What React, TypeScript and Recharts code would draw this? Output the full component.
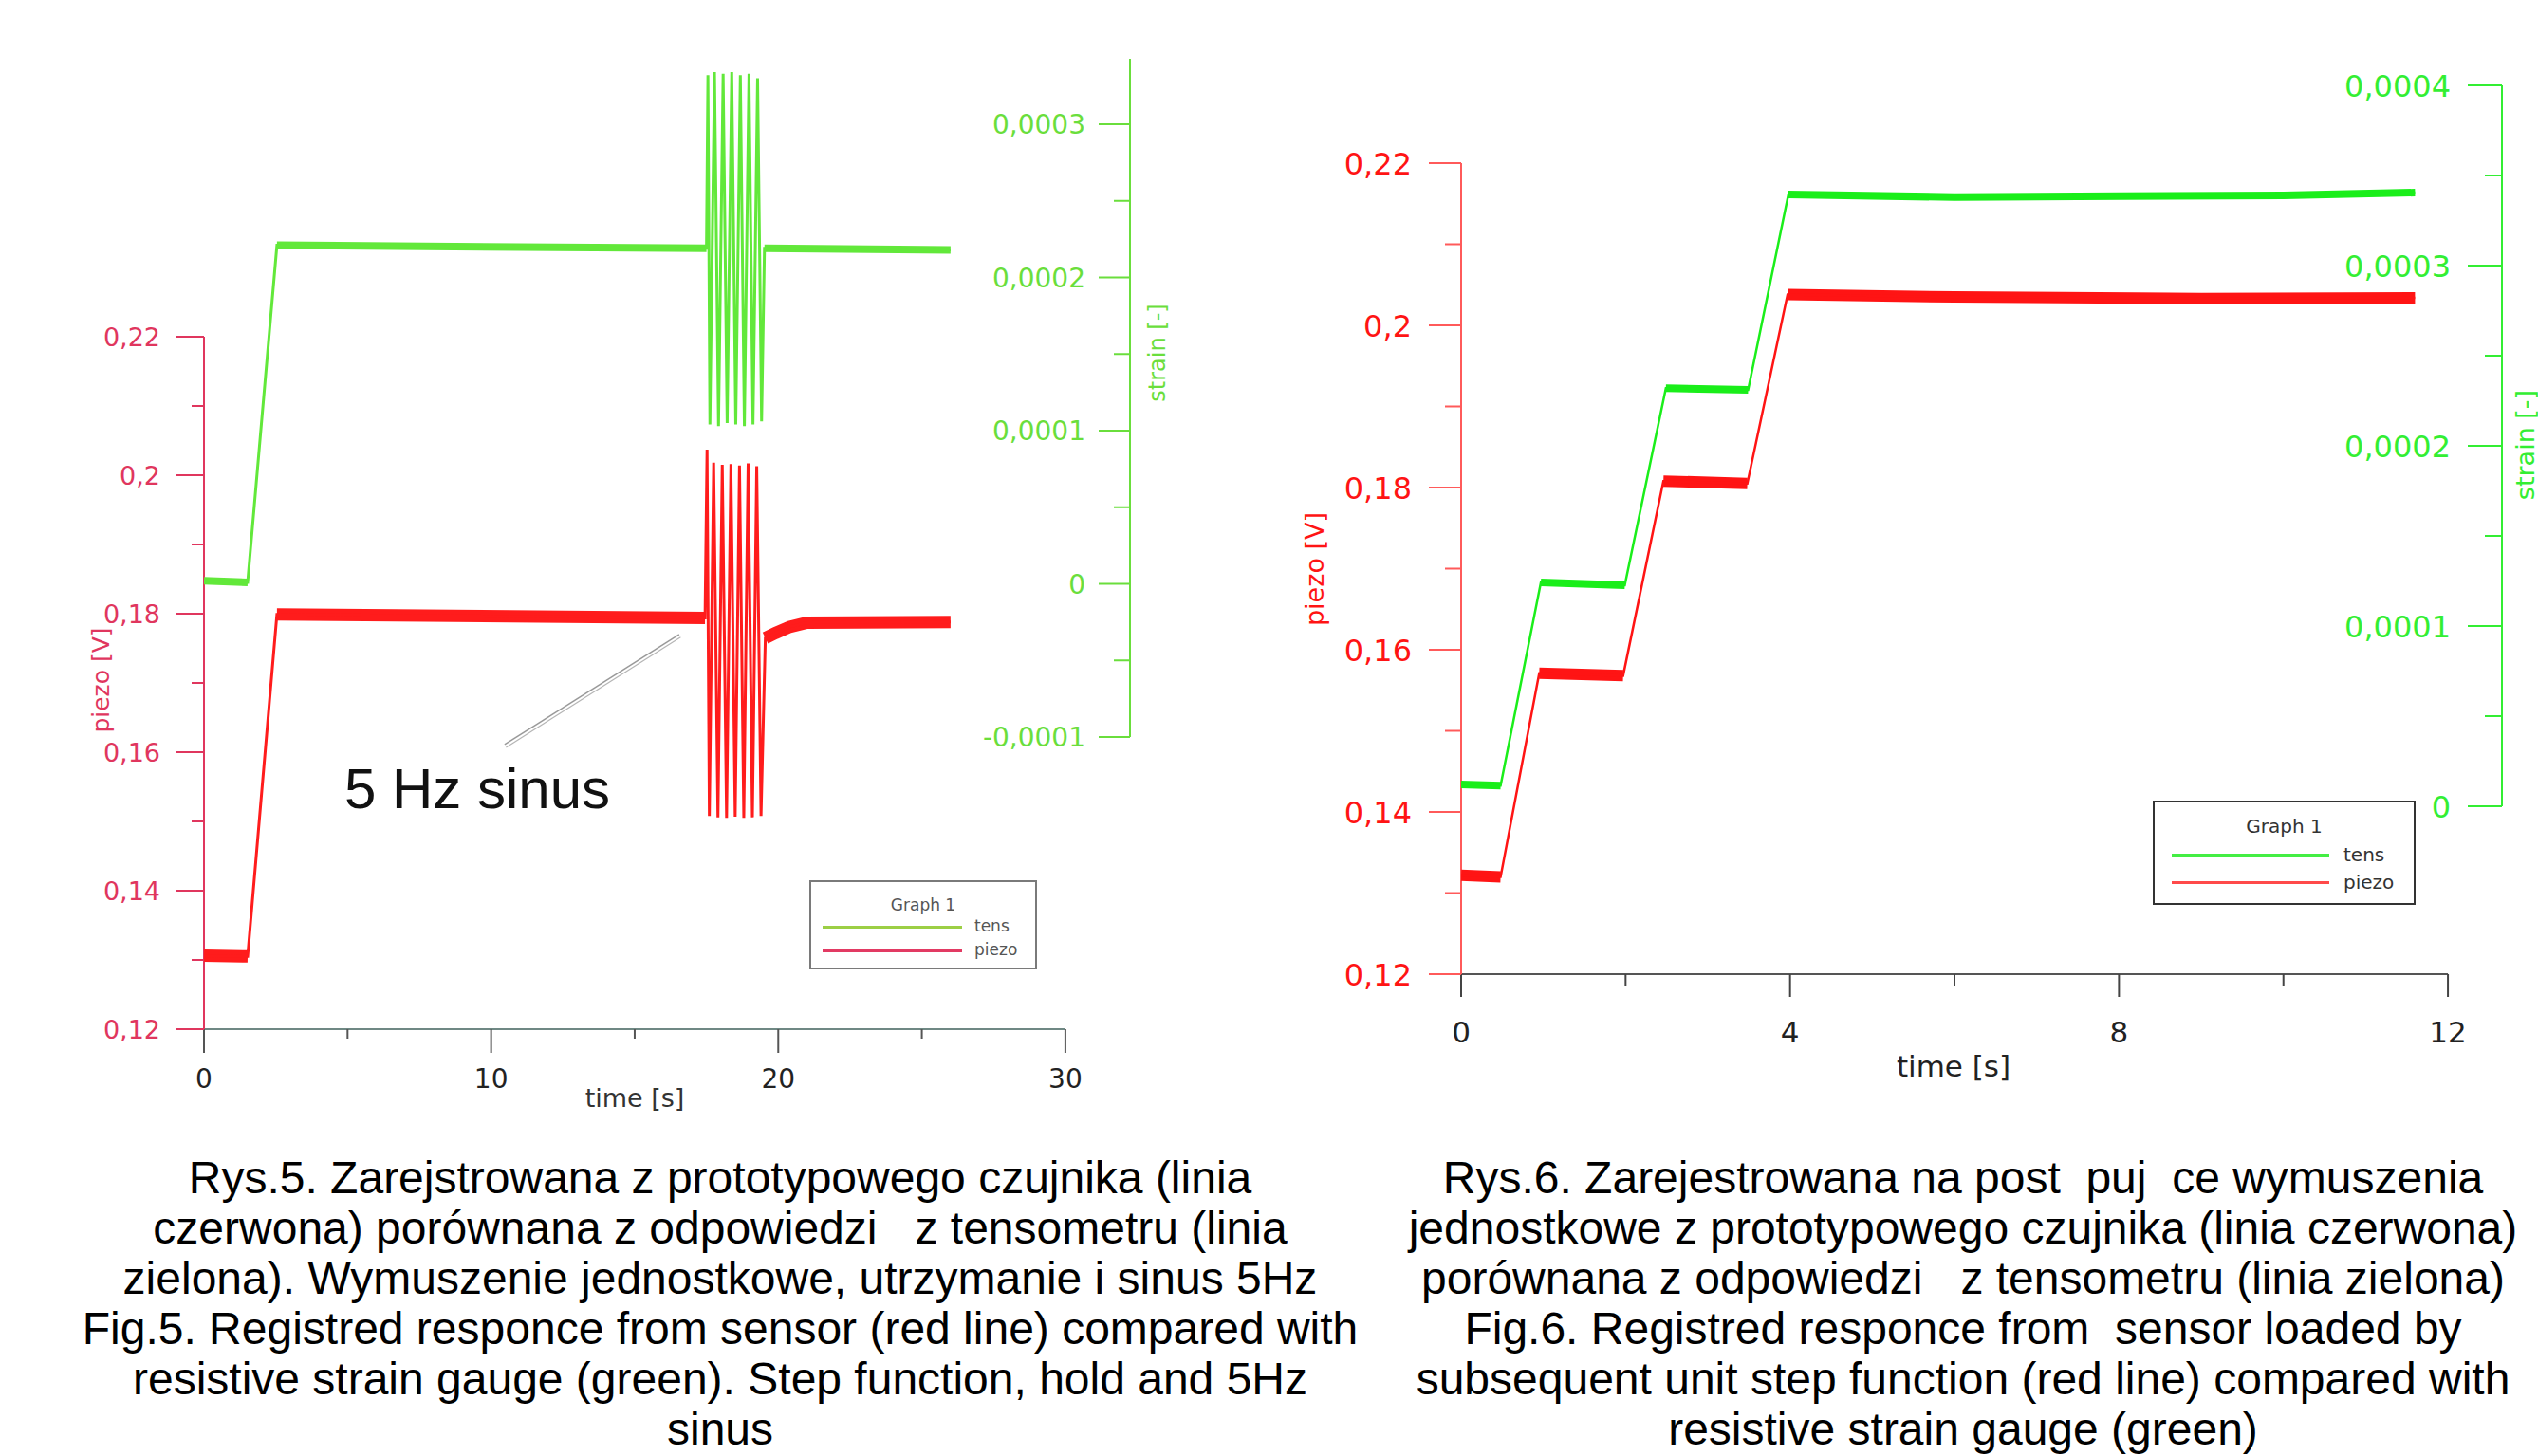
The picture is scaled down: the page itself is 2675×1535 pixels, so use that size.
import React from 'react';
import { LineChart, Line, XAxis, YAxis, ReferenceLine, Legend } from 'recharts';

// ================= Fig. 5 data =================
const fig5TensTime = [0, 1.52, 2.54, 17.5, 17.55, 17.62, 17.78, 17.92, 18.08, 18.22, 18.38, 18.52, 18.68, 18.82, 18.98, 19.12, 19.28, 19.42, 19.52, 26.0];
const fig5TensStrain = [0.000002, 0.000001, 0.000221, 0.000219, 0.000332, 0.000104, 0.000334, 0.000103, 0.000333, 0.000105, 0.000334, 0.000104, 0.000332, 0.000103, 0.000333, 0.000104, 0.00033, 0.000106, 0.000219, 0.000218];
const fig5TensHolds = [[0, 1], [2, 3], [18, 19]];

const fig5PiezoTime = [0, 1.52, 2.54, 17.45, 17.52, 17.6, 17.75, 17.9, 18.05, 18.2, 18.35, 18.5, 18.65, 18.8, 18.95, 19.1, 19.25, 19.4, 19.55, 19.9, 20.4, 21.0, 26.0];
const fig5PiezoVolt = [0.1306, 0.1305, 0.1799, 0.1794, 0.2037, 0.1508, 0.2018, 0.1506, 0.2015, 0.1505, 0.2016, 0.1507, 0.2014, 0.1505, 0.2017, 0.1506, 0.2013, 0.1508, 0.1765, 0.1772, 0.1781, 0.1787, 0.1788];
const fig5PiezoHolds = [[0, 1], [2, 3], [18, 22]];

const fig5PiezoTicks = [0.12, 0.13, 0.14, 0.15, 0.16, 0.17, 0.18, 0.19, 0.2, 0.21, 0.22];
const fig5PiezoLabels = [0.12, 0.14, 0.16, 0.18, 0.2, 0.22];
const fig5StrainTicks = [-0.0001, -0.00005, 0, 0.00005, 0.0001, 0.00015, 0.0002, 0.00025, 0.0003];
const fig5StrainLabels = [-0.0001, 0, 0.0001, 0.0002, 0.0003];
const fig5TimeTicks = [0, 5, 10, 15, 20, 25, 30];
const fig5TimeLabels = [0, 10, 20, 30];

// ================= Fig. 6 data =================
const fig6TensTime = [0, 0.48, 0.97, 1.99, 2.49, 3.49, 3.98, 6.0, 8.0, 10.0, 11.6];
const fig6TensStrain = [0.0000121, 0.0000115, 0.0001242, 0.0001226, 0.000232, 0.000231, 0.0003395, 0.000338, 0.0003385, 0.000339, 0.0003405];
const fig6TensHolds = [[0, 1], [2, 3], [4, 5], [6, 10]];

const fig6PiezoTime = [0, 0.48, 0.95, 1.97, 2.46, 3.48, 3.97, 6.0, 9.0, 11.6];
const fig6PiezoVolt = [0.1322, 0.132, 0.1571, 0.1568, 0.1808, 0.1805, 0.2038, 0.2035, 0.2033, 0.2034];
const fig6PiezoHolds = [[0, 1], [2, 3], [4, 5], [6, 9]];

const fig6PiezoTicks = [0.12, 0.13, 0.14, 0.15, 0.16, 0.17, 0.18, 0.19, 0.2, 0.21, 0.22];
const fig6PiezoLabels = [0.12, 0.14, 0.16, 0.18, 0.2, 0.22];
const fig6StrainTicks = [0, 0.00005, 0.0001, 0.00015, 0.0002, 0.00025, 0.0003, 0.00035, 0.0004];
const fig6StrainLabels = [0, 0.0001, 0.0002, 0.0003, 0.0004];
const fig6TimeTicks = [0, 2, 4, 6, 8, 10, 12];
const fig6TimeLabels = [0, 4, 8, 12];

const seriesNames = ['tens', 'piezo'];
const legendTitle = 'Graph 1';

const caption5 = [
  'Rys.5. Zarejstrowana z prototypowego czujnika (linia',
  'czerwona) porównana z odpowiedzi   z tensometru (linia',
  'zielona). Wymuszenie jednostkowe, utrzymanie i sinus 5Hz',
  'Fig.5. Registred responce from sensor (red line) compared with',
  'resistive strain gauge (green). Step function, hold and 5Hz',
  'sinus',
];
const caption6 = [
  'Rys.6. Zarejestrowana na post  puj  ce wymuszenia',
  'jednostkowe z prototypowego czujnika (linia czerwona)',
  'porównana z odpowiedzi   z tensometru (linia zielona)',
  'Fig.6. Registred responce from  sensor loaded by',
  'subsequent unit step function (red line) compared with',
  'resistive strain gauge (green)',
];

// ================= helpers =================
const rows = (ts: number[], vs: number[]) => ts.map((t, i) => ({ t, v: vs[i] }));
const bandRows = (ts: number[], vs: number[], holds: number[][]) => {
  const out: { t: number; v: number | null }[] = [];
  holds.forEach(([a, b], k) => {
    for (let i = a; i <= b; i++) out.push({ t: ts[i], v: vs[i] });
    if (k < holds.length - 1) out.push({ t: (ts[b] + ts[holds[k + 1][0]]) / 2, v: null });
  });
  return out;
};
const fmt = (v: number) => String(Number(v.toFixed(6))).replace('.', ',');
const has = (arr: number[], v: number) => arr.some((a) => Math.abs(a - v) < 1e-9);

const TICK_FONT = '"DejaVu Sans", sans-serif';
const ARIAL = '"Liberation Sans", Arial, sans-serif';

type TickCfg = { labeled: number[]; line: string; text: string; majorLen: number; minorLen: number; gap: number; fontSize: number };

const makeYTick = (cfg: TickCfg) => (p: any) => {
  const v = p.payload.value;
  const major = has(cfg.labeled, v);
  const len = major ? cfg.majorLen : cfg.minorLen;
  return (
    <g>
      <line x1={p.x} x2={p.x - len} y1={p.y} y2={p.y} stroke={cfg.line} strokeWidth={2} />
      {major && (
        <text x={p.x - len - cfg.gap} y={p.y + cfg.fontSize * 0.36} textAnchor="end" fill={cfg.text} fontSize={cfg.fontSize} fontFamily={TICK_FONT}>
          {fmt(v)}
        </text>
      )}
    </g>
  );
};

const makeXTick = (cfg: TickCfg) => (p: any) => {
  const v = p.payload.value;
  const major = has(cfg.labeled, v);
  const len = major ? cfg.majorLen : cfg.minorLen;
  return (
    <g>
      <line x1={p.x} x2={p.x} y1={p.y} y2={p.y + len} stroke={cfg.line} strokeWidth={2} />
      {major && (
        <text x={p.x} y={p.y + cfg.gap} textAnchor="middle" fill={cfg.text} fontSize={cfg.fontSize} fontFamily={TICK_FONT}>
          {fmt(v)}
        </text>
      )}
    </g>
  );
};

type LegCfg = { w: number; h: number; border: string; text: string; font: number; titleY: number; rowY: number[]; x1: number; x2: number; labelX: number; colors: string[] };
const makeLegend = (cfg: LegCfg) => (props: any) => {
  const payload = (props.payload || []).filter((e: any) => seriesNames.includes(e.value));
  payload.sort((a: any, b: any) => seriesNames.indexOf(a.value) - seriesNames.indexOf(b.value));
  return (
    <div style={{ position: 'relative', width: cfg.w, height: cfg.h, border: `2px solid ${cfg.border}`, boxSizing: 'border-box', background: '#fff', fontFamily: TICK_FONT, color: cfg.text, fontSize: cfg.font }}>
      <div style={{ position: 'absolute', left: 0, width: '100%', top: cfg.titleY - cfg.font * 0.6, textAlign: 'center', lineHeight: 1.2 + 'em' }}>{legendTitle}</div>
      {payload.map((e: any, i: number) => (
        <React.Fragment key={e.value}>
          <div style={{ position: 'absolute', left: cfg.x1, width: cfg.x2 - cfg.x1, top: cfg.rowY[i] - 1.5, height: 3, background: cfg.colors[i] }} />
          <div style={{ position: 'absolute', left: cfg.labelX, top: cfg.rowY[i] - cfg.font * 0.62, lineHeight: 1.2 + 'em' }}>{e.value}</div>
        </React.Fragment>
      ))}
    </div>
  );
};

const vText = (cx: number, cy: number, text: string, size: number, color: string, family = TICK_FONT) => (
  <div
    style={{
      position: 'absolute', left: cx, top: cy, transform: 'translate(-50%,-50%) rotate(-90deg)', whiteSpace: 'nowrap',
      fontSize: size, lineHeight: 1, color, fontFamily: family,
    }}
  >
    {text}
  </div>
);
const hText = (cx: number, cy: number, text: string, size: number, color: string, family = TICK_FONT) => (
  <div style={{ position: 'absolute', left: cx, top: cy, transform: 'translate(-50%,-50%)', whiteSpace: 'nowrap', fontSize: size, lineHeight: 1, color, fontFamily: family }}>
    {text}
  </div>
);

// colours
const F5_RED = '#ff1c1c';
const F5_GREEN = '#62e83a';
const F5_RED_AXIS = '#e0365e';
const F5_GREEN_AXIS = '#6ade3c';
const F6_RED = '#ff1414';
const F6_GREEN = '#1aee1a';
const F6_RED_AXIS = '#ff5a5a';
const F6_GREEN_AXIS = '#33ee33';

function Fig5() {
  const X_MAX = 32.25;
  return (
    <LineChart width={1300} height={1200} margin={{ top: 62, left: 115, right: 49, bottom: 55 }}>
      <XAxis type="number" dataKey="t" domain={[0, X_MAX]} allowDataOverflow ticks={fig5TimeTicks} interval={0} height={60}
        axisLine={false} tickLine={false} tickSize={0} tickMargin={0}
        tick={makeXTick({ labeled: fig5TimeLabels, line: '#555', text: '#222', majorLen: 25, minorLen: 10, gap: 62, fontSize: 28 })} />
      <YAxis yAxisId="p" orientation="left" type="number" width={100} domain={[0.12, 0.26014]} allowDataOverflow ticks={fig5PiezoTicks} interval={0}
        axisLine={false} tickLine={false} tickSize={0} tickMargin={0}
        tick={makeYTick({ labeled: fig5PiezoLabels, line: F5_RED_AXIS, text: F5_RED_AXIS, majorLen: 30, minorLen: 13, gap: 16, fontSize: 27 })} />
      <YAxis yAxisId="s" orientation="right" type="number" width={60} domain={[-0.00029071, 0.00034273]} allowDataOverflow ticks={fig5StrainTicks} interval={0}
        axisLine={false} tickLine={false} tickSize={0} tickMargin={0}
        tick={makeYTick({ labeled: fig5StrainLabels, line: F5_GREEN_AXIS, text: F5_GREEN_AXIS, majorLen: 33, minorLen: 17, gap: 14, fontSize: 28 })} />

      <ReferenceLine yAxisId="p" segment={[{ x: 0, y: 0.12 }, { x: 30, y: 0.12 }]} stroke="#6f8884" strokeWidth={2} />
      <ReferenceLine yAxisId="p" segment={[{ x: 0, y: 0.12 }, { x: 0, y: 0.22 }]} stroke={F5_RED_AXIS} strokeWidth={2} />
      <ReferenceLine yAxisId="s" segment={[{ x: X_MAX, y: -0.0001 }, { x: X_MAX, y: 0.00034273 }]} stroke={F5_GREEN_AXIS} strokeWidth={2} />
      <ReferenceLine yAxisId="p" segment={[{ x: 10.47, y: 0.1611 }, { x: 16.55, y: 0.177 }]} stroke="#9a9a9a" strokeWidth={1.5} />
      <ReferenceLine yAxisId="p" segment={[{ x: 10.52, y: 0.1607 }, { x: 16.6, y: 0.1766 }]} stroke="#b5b5b5" strokeWidth={1.2} />

      <Line yAxisId="s" data={bandRows(fig5TensTime, fig5TensStrain, fig5TensHolds)} dataKey="v" stroke={F5_GREEN} strokeWidth={8} dot={false} activeDot={false} legendType="none" isAnimationActive={false} name="tensBand" />
      <Line yAxisId="s" data={rows(fig5TensTime, fig5TensStrain)} dataKey="v" stroke={F5_GREEN} strokeWidth={3} dot={false} activeDot={false} isAnimationActive={false} name={seriesNames[0]} />
      <Line yAxisId="p" data={bandRows(fig5PiezoTime, fig5PiezoVolt, fig5PiezoHolds)} dataKey="v" stroke={F5_RED} strokeWidth={13} dot={false} activeDot={false} legendType="none" isAnimationActive={false} name="piezoBand" />
      <Line yAxisId="p" data={rows(fig5PiezoTime, fig5PiezoVolt)} dataKey="v" stroke={F5_RED} strokeWidth={3} dot={false} activeDot={false} isAnimationActive={false} name={seriesNames[1]} />

      <Legend layout="horizontal" verticalAlign="middle" align="center"
        wrapperStyle={{ left: 853, top: 928, width: 240, height: 94 }}
        content={makeLegend({ w: 240, h: 94, border: '#7a7a7a', text: '#555', font: 17, titleY: 24, rowY: [47, 72], x1: 12, x2: 159, labelX: 172, colors: ['#9ccf45', '#e23a63'] })} />
    </LineChart>
  );
}

function Fig6() {
  const X_MAX = 12.657;
  return (
    <LineChart width={1345} height={1200} margin={{ top: 90, left: 110, right: 8, bottom: 113 }}>
      <XAxis type="number" dataKey="t" domain={[0, X_MAX]} allowDataOverflow ticks={fig6TimeTicks} interval={0} height={60}
        axisLine={false} tickLine={false} tickSize={0} tickMargin={0}
        tick={makeXTick({ labeled: fig6TimeLabels, line: '#444', text: '#222', majorLen: 24, minorLen: 12, gap: 72, fontSize: 31 })} />
      <YAxis yAxisId="p" orientation="left" type="number" width={100} domain={[0.12, 0.22959]} allowDataOverflow ticks={fig6PiezoTicks} interval={0}
        axisLine={false} tickLine={false} tickSize={0} tickMargin={0}
        tick={makeYTick({ labeled: fig6PiezoLabels, line: F6_RED_AXIS, text: F6_RED, majorLen: 34, minorLen: 17, gap: 18, fontSize: 32 })} />
      <YAxis yAxisId="s" orientation="right" type="number" width={30} domain={[-0.00009316, 0.0004]} allowDataOverflow ticks={fig6StrainTicks} interval={0}
        axisLine={false} tickLine={false} tickSize={0} tickMargin={0}
        tick={makeYTick({ labeled: fig6StrainLabels, line: F6_GREEN_AXIS, text: F6_GREEN_AXIS, majorLen: 36, minorLen: 18, gap: 18, fontSize: 32 })} />

      <ReferenceLine yAxisId="p" segment={[{ x: 0, y: 0.12 }, { x: 12, y: 0.12 }]} stroke="#555" strokeWidth={2} />
      <ReferenceLine yAxisId="p" segment={[{ x: 0, y: 0.12 }, { x: 0, y: 0.22 }]} stroke={F6_RED_AXIS} strokeWidth={2} />
      <ReferenceLine yAxisId="s" segment={[{ x: X_MAX, y: 0 }, { x: X_MAX, y: 0.0004 }]} stroke={F6_GREEN_AXIS} strokeWidth={2} />

      <Line yAxisId="s" data={bandRows(fig6TensTime, fig6TensStrain, fig6TensHolds)} dataKey="v" stroke={F6_GREEN} strokeWidth={8} dot={false} activeDot={false} legendType="none" isAnimationActive={false} name="tensBand" />
      <Line yAxisId="s" data={rows(fig6TensTime, fig6TensStrain)} dataKey="v" stroke={F6_GREEN} strokeWidth={2.5} dot={false} activeDot={false} isAnimationActive={false} name={seriesNames[0]} />
      <Line yAxisId="p" data={bandRows(fig6PiezoTime, fig6PiezoVolt, fig6PiezoHolds)} dataKey="v" stroke={F6_RED} strokeWidth={12} dot={false} activeDot={false} legendType="none" isAnimationActive={false} name="piezoBand" />
      <Line yAxisId="p" data={rows(fig6PiezoTime, fig6PiezoVolt)} dataKey="v" stroke={F6_RED} strokeWidth={2.5} dot={false} activeDot={false} isAnimationActive={false} name={seriesNames[1]} />

      <Legend layout="horizontal" verticalAlign="middle" align="center"
        wrapperStyle={{ left: 939, top: 844, width: 277, height: 110 }}
        content={makeLegend({ w: 277, h: 110, border: '#333', text: '#333', font: 20, titleY: 25, rowY: [55, 84], x1: 18, x2: 184, labelX: 199, colors: ['#44ee44', '#ff4a4a'] })} />
    </LineChart>
  );
}

export default function App() {
  return (
    <div style={{ position: 'relative', width: 2675, height: 1535, overflow: 'hidden', background: '#fff' }}>
      <style>{`html,body{margin:0;padding:0;overflow:hidden;background:#fff}`}</style>
      <div style={{ position: 'absolute', left: 0, top: 0 }}>
        <Fig5 />
      </div>
      <div style={{ position: 'absolute', left: 1330, top: 0 }}>
        <Fig6 />
      </div>

      {/* Fig 5 axis titles & annotation */}
      {vText(106, 717, 'piezo [V]', 25, F5_RED_AXIS)}
      {vText(1220, 372, 'strain [-]', 24, F5_GREEN_AXIS)}
      {hText(669, 1157, 'time [s]', 27, '#333')}
      <div style={{ position: 'absolute', left: 0, width: 1006, top: 802, lineHeight: '60px', textAlign: 'center', fontSize: 60, fontFamily: ARIAL, color: '#111' }}>5 Hz sinus</div>

      {/* Fig 6 axis titles */}
      {vText(1385, 600, 'piezo [V]', 27, F6_RED)}
      {vText(2661, 469, 'strain [-]', 27, F6_GREEN_AXIS)}
      {hText(2059, 1124, 'time [s]', 31, '#222')}

      {/* captions */}
      <div style={{ position: 'absolute', left: -41, width: 1600, top: 1215, textAlign: 'center', fontFamily: ARIAL, fontSize: 48, lineHeight: '53px', color: '#000', whiteSpace: 'pre' }}>
        {caption5.map((l, i) => <div key={i}>{l}</div>)}
      </div>
      <div style={{ position: 'absolute', left: 1269, width: 1600, top: 1215, textAlign: 'center', fontFamily: ARIAL, fontSize: 48, lineHeight: '53px', color: '#000', whiteSpace: 'pre' }}>
        {caption6.map((l, i) => <div key={i}>{l}</div>)}
      </div>
    </div>
  );
}
